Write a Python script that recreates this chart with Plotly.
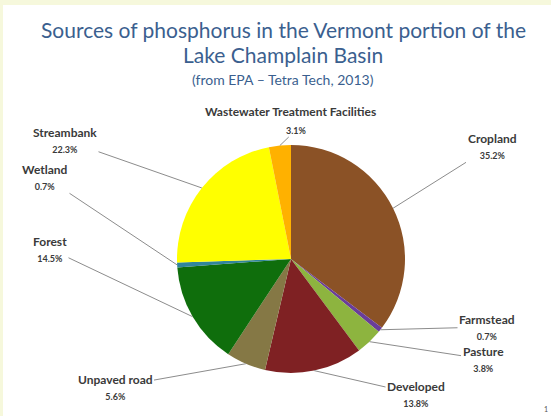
import math
import plotly.graph_objects as go

# ---- data ----
sources = ["Cropland", "Farmstead", "Pasture", "Developed", "Unpaved road",
           "Forest", "Wetland", "Streambank", "Wastewater Treatment Facilities"]
percents = [35.2, 0.7, 3.8, 13.8, 5.6, 14.5, 0.7, 22.3, 3.1]
colors = ["#8B5226", "#6A3D9A", "#8DB43F", "#7F2123", "#857845",
          "#0F6E0C", "#31859C", "#FFFF00", "#FFB100"]

W, H = 551, 416
CX, CY, R = 291, 259, 114  # pie centre / radius in pixels


def px(x):
    return x / W


def py(y):
    return 1 - y / H


fig = go.Figure()
fig.add_trace(go.Pie(
    labels=sources, values=percents, sort=False, direction="clockwise",
    rotation=0, marker=dict(colors=colors, line=dict(width=0)),
    textinfo="none", hoverinfo="label+percent", showlegend=False,
    domain=dict(x=[px(CX - R), px(CX + R)], y=[py(CY + R), py(CY - R)]),
))

# label placement (text centre in pixels)
label_pos = {
    "Cropland": (492, 146),
    "Farmstead": (487, 327),
    "Pasture": (483, 359),
    "Developed": (416, 394),
    "Unpaved road": (115, 387),
    "Forest": (50, 249),
    "Wetland": (45, 177),
    "Streambank": (65, 140),
    "Wastewater Treatment Facilities": (296, 130),
}

total = sum(percents)
annotations = []
cum = 0.0
for name, val in zip(sources, percents):
    mid = (cum + val / 2) / total * 2 * math.pi
    cum += val
    ex = CX + R * math.sin(mid)
    ey = CY - R * math.cos(mid)
    lx, ly = label_pos[name]
    pct = f"{val:.1f}%"
    if name.startswith("Wastewater"):
        text = f"<b><span style='font-size:9px'>{pct}</span></b>"
        annotations.append(dict(
            x=px(290), y=py(112), xref="paper", yref="paper", showarrow=False,
            xanchor="center", yanchor="middle",
            text=f"<b>{name}</b>", font=dict(family="Lato", size=12, color="#3A3A3A")))
    else:
        text = f"<b>{name}</b><br><b><span style='font-size:9px'>{pct}</span></b>"
    annotations.append(dict(
        x=px(ex), y=py(ey), xref="paper", yref="paper",
        ax=lx - ex, ay=ly - ey, showarrow=True, arrowhead=0,
        arrowwidth=1, arrowcolor="#8C8C8C", standoff=0,
        text=text, align="center",
        font=dict(family="Lato", size=12, color="#3A3A3A")))

# titles
title_color = "#3B5F8F"


def title_ann(text, y, size):
    return dict(x=px(283), y=py(y), xref="paper", yref="paper", showarrow=False,
                xanchor="center", yanchor="middle", text=text,
                font=dict(family="Lato", size=size, color=title_color))


annotations += [
    title_ann("Sources of phosphorus in the Vermont portion of the", 30, 21),
    title_ann("Lake Champlain Basin", 55, 21),
    title_ann("(from EPA – Tetra Tech, 2013)", 79, 14),
    dict(x=px(546), y=py(409), xref="paper", yref="paper", showarrow=False,
         xanchor="center", yanchor="middle",
         text="1", font=dict(family="Lato", size=7, color="#555555")),
]

fig.update_layout(
    width=W, height=H, margin=dict(l=0, r=0, t=0, b=0),
    paper_bgcolor="#F6F8DC", plot_bgcolor="white",
    annotations=annotations,
    shapes=[dict(type="rect", xref="paper", yref="paper",
                 x0=px(3), x1=1, y0=0, y1=py(5),
                 fillcolor="white", line=dict(width=0), layer="below")],
)

fig.write_html("out.html", config={"displayModeBar": False},
               post_script="document.body.style.margin='0';document.body.style.overflow='hidden';")
